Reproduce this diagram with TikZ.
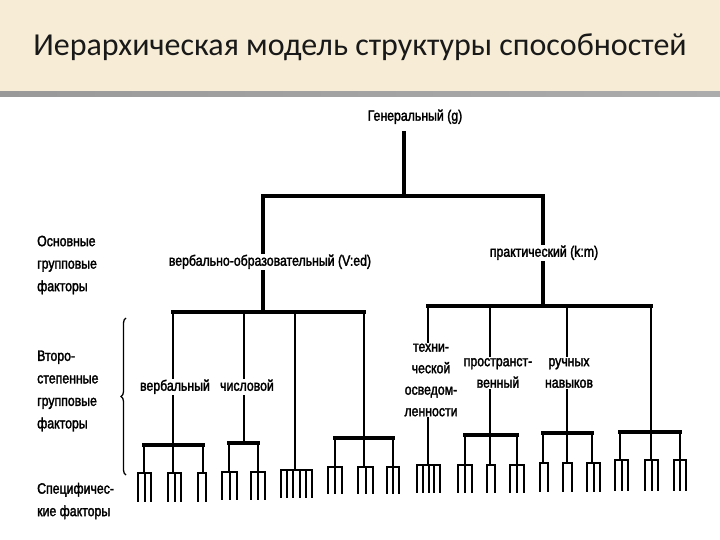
\documentclass[tikz,border=0pt]{standalone}
\usepackage{fontspec}
\setmainfont{Liberation Sans}
\newfontfamily\titlefont{Carlito}
\newfontfamily\labfont[FakeStretch=0.82,FakeBold=2]{Liberation Sans}
\usetikzlibrary{decorations.pathreplacing}
\definecolor{parch}{RGB}{247,237,214}
\newcommand\combdraw[5]{% x1, x2, teeth, top, bottom
  \draw[combbar] (#1,#4) -- (#2,#4);
  \foreach \k in {1,...,#3}{%
    \pgfmathsetmacro\xx{#1+(#2-#1)*(\k-1)/(#3-1)}%
    \draw[tooth] (\xx,#4) -- (\xx,#5);}%
}
\begin{document}
\begin{tikzpicture}[x=1pt,y=-1pt,
  labm/.style={font=\labfont\fontsize{15}{21.5}\selectfont, fill=white, inner sep=1pt, align=center},
  lab/.style={labm, text height=11pt, text depth=3.5pt},
  side/.style={font=\labfont\fontsize{15}{22.5}\selectfont, align=left, anchor=west, inner sep=0pt},
  tree/.style={line width=3.1pt, line cap=rect},
  stem/.style={line width=2.5pt},
  combbar/.style={line width=2.8pt, line cap=rect},
  tooth/.style={line width=2pt}]
\useasboundingbox (0,0) rectangle (720,540);
\fill[white] (0,0) rectangle (720,540);
\fill[parch] (0,0) rectangle (720,92);
\shade[left color=gray!80, middle color=gray!30, right color=gray!65] (0,92) rectangle (720,97);

\node[font=\titlefont\fontsize{32}{36}\selectfont, text=black!90] (title) at (360,47) {Иерархическая модель структуры способностей};

% connectors (drawn first, labels cover them)
\coordinate (g0) at (404,133);
\coordinate (g1) at (404,196);
\coordinate (a) at (263,196);
\coordinate (b) at (543,196);
\coordinate (a1) at (263,312);
\coordinate (b1) at (543,306);
\draw[tree] (g0) -- (g1);
\draw[tree] (a) -- (b);
\draw[tree] (a) -- (a1);
\draw[tree] (b) -- (b1);
% left second level
\coordinate (L1) at (173,312);
\coordinate (L2) at (244,312);
\coordinate (L3) at (295,312);
\coordinate (L4) at (364,312);
\draw[tree] (L1) -- (L4);
\draw[stem] (L1) -- (173,445);
\draw[stem] (L2) -- (244,443);
\draw[stem] (L3) -- (295,470);
\draw[stem] (L4) -- (364,438);
% right second level
\coordinate (R1) at (428,306);
\coordinate (R2) at (490,306);
\coordinate (R3) at (567,306);
\coordinate (R4) at (651,306);
\draw[tree] (R1) -- (R4);
\draw[stem] (R1) -- (428,465);
\draw[stem] (R2) -- (490,435);
\draw[stem] (R3) -- (567,433);
\draw[stem] (R4) -- (651,432);
% sub-branches
\draw[tree] (144,445) -- (203,445);
\foreach \x in {144,173,203} \draw[stem] (\x,445) -- (\x,473);
\draw[tree] (229,443) -- (258,443);
\foreach \x in {229,258} \draw[stem] (\x,443) -- (\x,472);
\draw[tree] (335,438) -- (393,438);
\foreach \x in {335,364,393} \draw[stem] (\x,438) -- (\x,467);
\draw[tree] (465,435) -- (517,435);
\foreach \x in {465,490,517} \draw[stem] (\x,435) -- (\x,465);
\draw[tree] (543,433) -- (592,433);
\foreach \x in {543,567,592} \draw[stem] (\x,433) -- (\x,463);
\draw[tree] (620,432) -- (680,432);
\foreach \x in {620,651,680} \draw[stem] (\x,432) -- (\x,460);

% specific factors (combs)
\combdraw{138}{151}{3}{473}{502}
\combdraw{168}{181}{3}{473}{502}
\combdraw{198}{206}{2}{473}{502}
\combdraw{222}{237}{3}{472}{500}
\combdraw{251}{265}{3}{472}{500}
\combdraw{281}{312}{6}{470}{498}
\combdraw{328}{342}{3}{467}{494}
\combdraw{358}{373}{3}{467}{494}
\combdraw{387}{399}{3}{467}{494}
\combdraw{417}{440}{5}{465}{493}
\combdraw{458}{472}{3}{465}{493}
\combdraw{487}{495}{2}{465}{493}
\combdraw{510}{524}{3}{465}{493}
\combdraw{540}{548}{2}{463}{492}
\combdraw{563}{572}{2}{463}{492}
\combdraw{587}{600}{3}{463}{492}
\combdraw{615}{628}{3}{460}{491}
\combdraw{645}{658}{3}{460}{491}
\combdraw{674}{686}{3}{460}{491}

% level labels
\node[lab] (gen) at (415,117) {Генеральный (g)};
\node[lab] (ved) at (270,262) {вербально-образовательный (V:ed)};
\node[lab] (km) at (544,253) {практический (k:m)};
\node[lab] (verb) at (175,387) {вербальный};
\node[lab] (num) at (247,387) {числовой};
\node[labm] (tech) at (431,380) {техни-\\ческой\\осведом-\\ленности};
\node[labm] (spat) at (498,373) {пространст-\\венный};
\node[labm] (man) at (569,373) {ручных\\навыков};

% side labels
\node[side] (s1) at (37,265) {Основные\\групповые\\факторы};
\node[side] (s2) at (37,391) {Второ-\\степенные\\групповые\\факторы};
\node[side] (s3) at (37,501) {Специфичес-\\кие факторы};

\draw[line width=1.3pt, decorate, decoration={brace, amplitude=5pt}] (126,475) coordinate (br1) -- (126,318) coordinate (br2);
\end{tikzpicture}
\end{document}
